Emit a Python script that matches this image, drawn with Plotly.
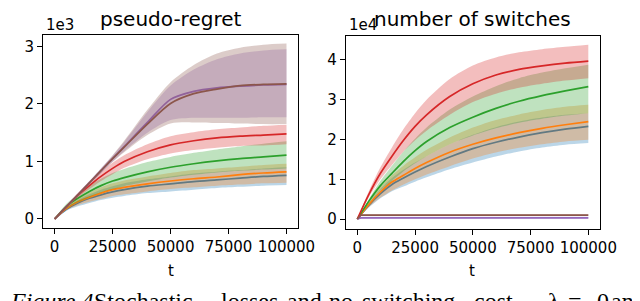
import plotly.graph_objects as go

W, H = 640, 301

# ---------------- data ----------------
t = [0, 5000, 10000, 15000, 20000, 25000, 30000, 40000, 50000, 60000, 70000, 80000, 90000, 100000]
t_flat = [0, 1500, 50000, 100000]

series_names = ["blue", "orange", "green", "red", "purple", "brown"]
line_colors = ["#1f77b4", "#ff7f0e", "#2ca02c", "#d62728", "#9467bd", "#8c564b"]
fill_colors = ["rgba(31,119,180,0.3)", "rgba(255,127,14,0.3)", "rgba(44,160,44,0.3)",
               "rgba(214,39,40,0.3)", "rgba(148,103,189,0.3)", "rgba(140,86,75,0.3)"]

# pseudo-regret (units of 1e3)
reg_blue = [0, .17, .28, .36, .42, .47, .51, .57, .61, .65, .68, .71, .74, .76]
reg_blue_lo = [0, .14, .22, .28, .33, .37, .40, .45, .48, .51, .54, .56, .58, .59]
reg_blue_hi = [0, .20, .33, .43, .51, .57, .62, .69, .74, .79, .82, .85, .88, .90]
reg_orange = [0, .18, .30, .38, .45, .51, .55, .61, .66, .70, .73, .77, .80, .82]
reg_orange_lo = [0, .15, .24, .30, .35, .40, .43, .48, .52, .55, .58, .60, .62, .63]
reg_orange_hi = [0, .21, .36, .46, .55, .62, .67, .74, .80, .85, .88, .91, .94, .96]
reg_green = [0, .22, .36, .48, .58, .66, .72, .82, .90, .96, 1.01, 1.05, 1.08, 1.11]
reg_green_lo = [0, .18, .29, .38, .46, .52, .57, .65, .72, .77, .81, .84, .86, .88]
reg_green_hi = [0, .26, .43, .58, .70, .80, .87, .99, 1.08, 1.15, 1.21, 1.26, 1.31, 1.35]
reg_red = [0, .21, .41, .58, .74, .88, 1.00, 1.17, 1.29, 1.36, 1.41, 1.44, 1.46, 1.48]
reg_red_lo = [0, .19, .37, .52, .66, .78, .89, 1.04, 1.14, 1.20, 1.24, 1.27, 1.28, 1.30]
reg_red_hi = [0, .23, .45, .64, .82, .98, 1.11, 1.30, 1.44, 1.51, 1.56, 1.59, 1.62, 1.64]
reg_purple = [0, .21, .42, .63, .84, 1.05, 1.26, 1.68, 2.08, 2.22, 2.28, 2.31, 2.33, 2.34]
reg_purple_lo = [0, .20, .40, .60, .80, 1.00, 1.18, 1.50, 1.72, 1.76, 1.76, 1.76, 1.77, 1.77]
reg_purple_hi = [0, .22, .44, .66, .88, 1.10, 1.34, 1.86, 2.32, 2.60, 2.78, 2.88, 2.93, 2.95]
reg_brown = [0, .21, .42, .63, .84, 1.05, 1.25, 1.65, 2.01, 2.18, 2.26, 2.32, 2.34, 2.35]
reg_brown_lo = [0, .20, .40, .60, .80, .99, 1.16, 1.46, 1.66, 1.68, 1.67, 1.66, 1.65, 1.65]
reg_brown_hi = [0, .22, .44, .66, .88, 1.11, 1.36, 1.90, 2.38, 2.68, 2.88, 2.98, 3.03, 3.05]

# number of switches (units of 1e4)
sw_blue = [0, .35, .64, .87, 1.03, 1.18, 1.32, 1.56, 1.77, 1.93, 2.06, 2.17, 2.26, 2.33]
sw_blue_lo = [0, .29, .52, .70, .82, .94, 1.05, 1.25, 1.42, 1.57, 1.70, 1.80, 1.87, 1.91]
sw_blue_hi = [0, .40, .75, 1.03, 1.24, 1.42, 1.58, 1.88, 2.12, 2.31, 2.45, 2.55, 2.62, 2.66]
sw_orange = [0, .37, .68, .93, 1.10, 1.27, 1.42, 1.68, 1.88, 2.04, 2.17, 2.28, 2.37, 2.45]
sw_orange_lo = [0, .30, .54, .72, .87, 1.00, 1.12, 1.33, 1.52, 1.67, 1.79, 1.88, 1.95, 1.99]
sw_orange_hi = [0, .43, .80, 1.10, 1.34, 1.55, 1.74, 2.05, 2.30, 2.49, 2.63, 2.74, 2.82, 2.87]
sw_green = [0, .45, .84, 1.15, 1.45, 1.72, 1.95, 2.30, 2.56, 2.78, 2.96, 3.10, 3.22, 3.33]
sw_green_lo = [0, .40, .72, .96, 1.20, 1.40, 1.58, 1.88, 2.10, 2.28, 2.42, 2.52, 2.60, 2.66]
sw_green_hi = [0, .50, .96, 1.34, 1.70, 2.02, 2.30, 2.75, 3.08, 3.34, 3.54, 3.68, 3.79, 3.88]
sw_red = [0, .62, 1.15, 1.58, 1.98, 2.33, 2.62, 3.08, 3.40, 3.62, 3.76, 3.85, 3.92, 3.97]
sw_red_lo = [0, .55, 1.00, 1.36, 1.70, 1.98, 2.22, 2.62, 2.94, 3.15, 3.30, 3.40, 3.48, 3.54]
sw_red_hi = [0, .70, 1.30, 1.80, 2.26, 2.66, 3.00, 3.52, 3.86, 4.06, 4.19, 4.27, 4.33, 4.38]
sw_purple = [0, .03, .03, .03]
sw_purple_lo = [0, .01, .01, .01]
sw_purple_hi = [0, .06, .06, .06]
sw_brown = [0, .10, .10, .10]
sw_brown_lo = [0, .08, .08, .08]
sw_brown_hi = [0, .12, .12, .12]

x_tick_vals = [0, 25000, 50000, 75000, 100000]
x_tick_text = ["0", "25000", "50000", "75000", "100000"]
left_y_ticks = [0, 1, 2, 3]
right_y_ticks = [0, 1, 2, 3, 4]

left_title = "pseudo-regret"
right_title = "number of switches"
left_mult = "1e3"
right_mult = "1e4"
x_label = "t"
caption_words = [("<i>Figure 4.</i>", 0), ("Stochastic", 86),
                 ("losses", 217), ("and", 285), ("no", 328), ("switching", 362),
                 ("cost,", 477), ("λ", 553), ("=", 573), ("0", 603), ("and", 617)]

reg_sets = [(t, reg_blue, reg_blue_lo, reg_blue_hi), (t, reg_orange, reg_orange_lo, reg_orange_hi),
            (t, reg_green, reg_green_lo, reg_green_hi), (t, reg_red, reg_red_lo, reg_red_hi),
            (t, reg_purple, reg_purple_lo, reg_purple_hi), (t, reg_brown, reg_brown_lo, reg_brown_hi)]
sw_sets = [(t, sw_blue, sw_blue_lo, sw_blue_hi), (t, sw_orange, sw_orange_lo, sw_orange_hi),
           (t, sw_green, sw_green_lo, sw_green_hi), (t, sw_red, sw_red_lo, sw_red_hi),
           (t_flat, sw_purple, sw_purple_lo, sw_purple_hi), (t_flat, sw_brown, sw_brown_lo, sw_brown_hi)]

# ---------------- figure ----------------
fig = go.Figure()


def add_series(sets, xa, ya):
    for i, (tx, m, lo, hi) in enumerate(sets):
        shape = "spline" if len(tx) > 5 else "linear"
        fig.add_trace(go.Scatter(x=tx, y=hi, mode="lines", line=dict(width=0, shape=shape, smoothing=0.8),
                                 showlegend=False, hoverinfo="skip", xaxis=xa, yaxis=ya))
        fig.add_trace(go.Scatter(x=tx, y=lo, mode="lines", line=dict(width=0, shape=shape, smoothing=0.8),
                                 fill="tonexty", fillcolor=fill_colors[i],
                                 showlegend=False, hoverinfo="skip", xaxis=xa, yaxis=ya))
        fig.add_trace(go.Scatter(x=tx, y=m, mode="lines", name=series_names[i],
                                 line=dict(color=line_colors[i], width=1.7, shape=shape, smoothing=0.8),
                                 showlegend=False, xaxis=xa, yaxis=ya))


add_series(reg_sets, "x", "y")
add_series(sw_sets, "x2", "y2")


def px(x):
    return x / W


def py(y):
    return 1 - y / H


font_main = "DejaVu Sans"
axis_common = dict(showline=True, mirror=True, linecolor="black", linewidth=1,
                   ticks="outside", ticklen=5, tickcolor="black", showgrid=False,
                   zeroline=False, tickfont=dict(family=font_main, size=15, color="black"))

fig.update_layout(
    width=W, height=H, margin=dict(l=0, r=0, t=0, b=0),
    paper_bgcolor="white", plot_bgcolor="white", showlegend=False,
    xaxis=dict(domain=[px(36), px(298)], range=[-5000, 105000], tickvals=x_tick_vals,
               ticktext=x_tick_text, anchor="y", **axis_common),
    yaxis=dict(domain=[py(220), py(27)], range=[-0.157, 3.2], tickvals=left_y_ticks,
               ticktext=[str(v) for v in left_y_ticks], anchor="x", **axis_common),
    xaxis2=dict(domain=[px(347), px(608)], range=[-5000, 105000], tickvals=x_tick_vals,
                ticktext=x_tick_text, anchor="y2", **axis_common),
    yaxis2=dict(domain=[py(221), py(28)], range=[-0.25, 4.6], tickvals=right_y_ticks,
                ticktext=[str(v) for v in right_y_ticks], anchor="x2", **axis_common),
)

ann = []


def text(s, x, y, size, family=font_main, xanchor="center", yanchor="middle"):
    ann.append(dict(text=s, x=px(x), y=py(y), xref="paper", yref="paper", showarrow=False,
                    xanchor=xanchor, yanchor=yanchor,
                    font=dict(family=family, size=size, color="black")))


text(left_title, 167, 11, 20)
text(right_title, 477, 11, 20)
text(left_mult, 37, 17, 15, xanchor="left")
text(right_mult, 348, 17, 15, xanchor="left")
text(x_label, 167, 263, 15)
text(x_label, 477, 263, 15)
for w, xpos in caption_words:
    text(w, xpos, 293, 24, family="Liberation Serif", xanchor="left")

fig.update_layout(annotations=ann)
fig.write_html("out.html")
